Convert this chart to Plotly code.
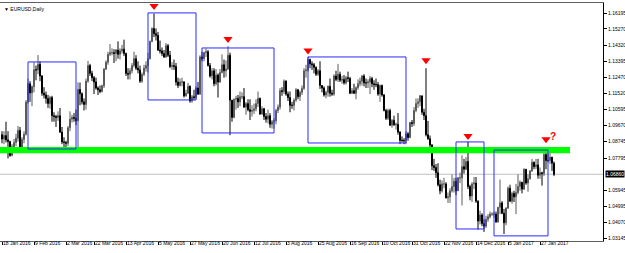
import pandas as pd
import plotly.graph_objects as go

# ---------------- data ----------------
DATES = pd.bdate_range("2016-01-18", "2017-02-07")
FIRST_OPEN = 1.0915

HIGH = [
    1.0935, 1.0935, 1.0990, 1.0935, 1.0880,
    1.0860, 1.0890, 1.0920, 1.0965, 1.0960,
    1.0900, 1.0935, 1.1115, 1.1240, 1.1225,
    1.1200, 1.1335, 1.1315, 1.1376, 1.1340,
    1.1260, 1.1190, 1.1165, 1.1145, 1.1140,
    1.1140, 1.1045, 1.1030, 1.1050, 1.1070,
    1.0960, 1.0900, 1.0880, 1.0965, 1.1050,
    1.1030, 1.1040, 1.1060, 1.1218, 1.1217,
    1.1160, 1.1125, 1.1240, 1.1342, 1.1325,
    1.1285, 1.1255, 1.1245, 1.1195, 1.1200,
    1.1205, 1.1300, 1.1345, 1.1395, 1.1440,
    1.1415, 1.1410, 1.1410, 1.1455, 1.1415,
    1.1435, 1.1465, 1.1390, 1.1300, 1.1300,
    1.1330, 1.1395, 1.1375, 1.1340, 1.1315,
    1.1275, 1.1320, 1.1340, 1.1390, 1.1460,
    1.1536, 1.1616, 1.1530, 1.1510, 1.1460,
    1.1420, 1.1405, 1.1445, 1.1440, 1.1400,
    1.1335, 1.1350, 1.1330, 1.1245, 1.1240,
    1.1245, 1.1225, 1.1175, 1.1215, 1.1200,
    1.1145, 1.1175, 1.1195, 1.1220, 1.1375,
    1.1395, 1.1395, 1.1415, 1.1405, 1.1330,
    1.1300, 1.1300, 1.1295, 1.1270, 1.1295,
    1.1380, 1.1350, 1.1345, 1.1428, 1.1390,
    1.1115, 1.1125, 1.1140, 1.1145, 1.1165,
    1.1160, 1.1185, 1.1105, 1.1120, 1.1120,
    1.1085, 1.1095, 1.1120, 1.1165, 1.1130,
    1.1080, 1.1070, 1.1040, 1.1060, 1.1040,
    1.1000, 1.1010, 1.1065, 1.1090, 1.1185,
    1.1190, 1.1235, 1.1230, 1.1165, 1.1165,
    1.1105, 1.1125, 1.1185, 1.1180, 1.1170,
    1.1200, 1.1300, 1.1320, 1.1366, 1.1355,
    1.1340, 1.1330, 1.1310, 1.1295, 1.1340,
    1.1200, 1.1195, 1.1170, 1.1200, 1.1240,
    1.1175, 1.1265, 1.1285, 1.1325, 1.1280,
    1.1255, 1.1260, 1.1255, 1.1280, 1.1250,
    1.1185, 1.1210, 1.1195, 1.1235, 1.1245,
    1.1260, 1.1265, 1.1240, 1.1235, 1.1255,
    1.1250, 1.1230, 1.1240, 1.1220, 1.1205,
    1.1205, 1.1150, 1.1065, 1.1065, 1.1065,
    1.1005, 1.1025, 1.0985, 1.1040, 1.0935,
    1.0905, 1.0895, 1.0935, 1.0930, 1.0990,
    1.1000, 1.1075, 1.1125, 1.1125, 1.1145,
    1.1140, 1.1065, 1.1300, 1.0995, 1.0910,
    1.0860, 1.0775, 1.0745, 1.0750, 1.0655,
    1.0650, 1.0665, 1.0640, 1.0580, 1.0605,
    1.0685, 1.0665, 1.0665, 1.0670, 1.0695,
    1.0796, 1.0775, 1.0785, 1.0874, 1.0625,
    1.0640, 1.0670, 1.0670, 1.0535, 1.0475,
    1.0460, 1.0425, 1.0445, 1.0455, 1.0470,
    1.0465, 1.0470, 1.0470, 1.0495, 1.0655,
    1.0530, 1.0485, 1.0495, 1.0615, 1.0625,
    1.0585, 1.0590, 1.0630, 1.0685, 1.0650,
    1.0640, 1.0720, 1.0715, 1.0685, 1.0710,
    1.0775, 1.0760, 1.0775, 1.0775, 1.0725,
    1.0700, 1.0810, 1.0810, 1.0830, 1.0830,
    1.0785, 1.0760,
]

LOW = [
    1.0865, 1.0860, 1.0870, 1.0778, 1.0787,
    1.0790, 1.0810, 1.0850, 1.0875, 1.0810,
    1.0810, 1.0865, 1.0910, 1.1095, 1.1105,
    1.1080, 1.1160, 1.1230, 1.1265, 1.1225,
    1.1140, 1.1125, 1.1095, 1.1070, 1.1065,
    1.0990, 1.0990, 1.0960, 1.0995, 1.0925,
    1.0860, 1.0840, 1.0830, 1.0850, 1.0935,
    1.0985, 1.0990, 1.0970, 1.0822, 1.1085,
    1.1090, 1.1055, 1.1060, 1.1215, 1.1255,
    1.1225, 1.1150, 1.1175, 1.1145, 1.1155,
    1.1160, 1.1185, 1.1290, 1.1320, 1.1370,
    1.1375, 1.1330, 1.1340, 1.1355, 1.1350,
    1.1385, 1.1370, 1.1255, 1.1235, 1.1235,
    1.1270, 1.1305, 1.1290, 1.1270, 1.1215,
    1.1215, 1.1255, 1.1280, 1.1275, 1.1350,
    1.1450, 1.1480, 1.1460, 1.1400, 1.1385,
    1.1370, 1.1360, 1.1360, 1.1365, 1.1300,
    1.1290, 1.1290, 1.1200, 1.1185, 1.1195,
    1.1195, 1.1130, 1.1135, 1.1150, 1.1100,
    1.1100, 1.1115, 1.1120, 1.1145, 1.1145,
    1.1340, 1.1340, 1.1365, 1.1310, 1.1245,
    1.1235, 1.1195, 1.1200, 1.1130, 1.1215,
    1.1270, 1.1245, 1.1250, 1.1290, 1.0912,
    1.0990, 1.1010, 1.1060, 1.1070, 1.1080,
    1.1120, 1.1070, 1.1030, 1.1050, 1.1000,
    1.1020, 1.1035, 1.1050, 1.1075, 1.1030,
    1.1030, 1.1000, 1.0985, 1.0980, 1.0955,
    1.0950, 1.0950, 1.0975, 1.1040, 1.1060,
    1.1140, 1.1150, 1.1140, 1.1110, 1.1045,
    1.1065, 1.1055, 1.1105, 1.1120, 1.1110,
    1.1145, 1.1175, 1.1245, 1.1280, 1.1300,
    1.1290, 1.1270, 1.1255, 1.1255, 1.1180,
    1.1160, 1.1135, 1.1125, 1.1135, 1.1135,
    1.1140, 1.1140, 1.1225, 1.1220, 1.1220,
    1.1210, 1.1205, 1.1205, 1.1220, 1.1150,
    1.1150, 1.1150, 1.1120, 1.1175, 1.1195,
    1.1200, 1.1195, 1.1185, 1.1185, 1.1150,
    1.1190, 1.1175, 1.1190, 1.1140, 1.1105,
    1.1135, 1.1050, 1.1000, 1.1000, 1.0965,
    1.0955, 1.0965, 1.0945, 1.0915, 1.0860,
    1.0870, 1.0860, 1.0860, 1.0880, 1.0895,
    1.0960, 1.0965, 1.1045, 1.1070, 1.1080,
    1.1030, 1.1000, 1.0905, 1.0885, 1.0830,
    1.0710, 1.0705, 1.0665, 1.0615, 1.0570,
    1.0580, 1.0605, 1.0545, 1.0520, 1.0520,
    1.0580, 1.0580, 1.0565, 1.0590, 1.0635,
    1.0505, 1.0690, 1.0710, 1.0600, 1.0535,
    1.0525, 1.0600, 1.0520, 1.0365, 1.0395,
    1.0385, 1.0352, 1.0375, 1.0410, 1.0430,
    1.0445, 1.0435, 1.0405, 1.0405, 1.0455,
    1.0455, 1.0340, 1.0390, 1.0485, 1.0525,
    1.0515, 1.0525, 1.0455, 1.0570, 1.0590,
    1.0575, 1.0595, 1.0625, 1.0585, 1.0655,
    1.0700, 1.0715, 1.0715, 1.0660, 1.0660,
    1.0620, 1.0675, 1.0715, 1.0755, 1.0745,
    1.0705, 1.0675,
]

CLOSE = [
    1.0890, 1.0910, 1.0885, 1.0875, 1.0795,
    1.0845, 1.0870, 1.0895, 1.0940, 1.0830,
    1.0887, 1.0918, 1.1104, 1.1210, 1.1157,
    1.1193, 1.1291, 1.1290, 1.1323, 1.1255,
    1.1155, 1.1145, 1.1125, 1.1095, 1.1130,
    1.1025, 1.1020, 1.1015, 1.1025, 1.0930,
    1.0873, 1.0870, 1.0865, 1.0955, 1.1005,
    1.1015, 1.1010, 1.0995, 1.1177, 1.1152,
    1.1105, 1.1090, 1.1225, 1.1315, 1.1270,
    1.1245, 1.1220, 1.1185, 1.1175, 1.1165,
    1.1198, 1.1295, 1.1335, 1.1380, 1.1390,
    1.1390, 1.1385, 1.1405, 1.1380, 1.1400,
    1.1410, 1.1385, 1.1270, 1.1265, 1.1285,
    1.1315, 1.1355, 1.1300, 1.1290, 1.1225,
    1.1263, 1.1300, 1.1315, 1.1355, 1.1455,
    1.1530, 1.1500, 1.1490, 1.1405, 1.1400,
    1.1385, 1.1365, 1.1430, 1.1375, 1.1310,
    1.1315, 1.1310, 1.1220, 1.1200, 1.1220,
    1.1220, 1.1140, 1.1155, 1.1195, 1.1110,
    1.1135, 1.1130, 1.1185, 1.1150, 1.1365,
    1.1355, 1.1390, 1.1395, 1.1315, 1.1255,
    1.1285, 1.1210, 1.1260, 1.1220, 1.1275,
    1.1320, 1.1285, 1.1295, 1.1375, 1.1115,
    1.1015, 1.1120, 1.1125, 1.1105, 1.1135,
    1.1135, 1.1075, 1.1095, 1.1060, 1.1050,
    1.1055, 1.1065, 1.1095, 1.1125, 1.1035,
    1.1065, 1.1020, 1.1005, 1.1025, 1.0975,
    1.0990, 1.0995, 1.1055, 1.1075, 1.1170,
    1.1165, 1.1225, 1.1150, 1.1130, 1.1085,
    1.1085, 1.1115, 1.1175, 1.1135, 1.1160,
    1.1183, 1.1285, 1.1290, 1.1350, 1.1325,
    1.1320, 1.1305, 1.1265, 1.1285, 1.1200,
    1.1185, 1.1145, 1.1160, 1.1195, 1.1155,
    1.1150, 1.1255, 1.1235, 1.1265, 1.1230,
    1.1235, 1.1215, 1.1245, 1.1240, 1.1155,
    1.1170, 1.1155, 1.1187, 1.1210, 1.1225,
    1.1255, 1.1215, 1.1215, 1.1220, 1.1240,
    1.1210, 1.1205, 1.1205, 1.1150, 1.1200,
    1.1145, 1.1055, 1.1010, 1.1055, 1.0970,
    1.0998, 1.0973, 1.0975, 1.0930, 1.0882,
    1.0882, 1.0880, 1.0920, 1.0898, 1.0985,
    1.0980, 1.1055, 1.1095, 1.1105, 1.1140,
    1.1045, 1.1025, 1.0915, 1.0892, 1.0855,
    1.0735, 1.0725, 1.0695, 1.0625, 1.0590,
    1.0630, 1.0630, 1.0550, 1.0555, 1.0590,
    1.0615, 1.0645, 1.0590, 1.0665, 1.0665,
    1.0730, 1.0715, 1.0760, 1.0615, 1.0560,
    1.0630, 1.0635, 1.0530, 1.0415, 1.0450,
    1.0400, 1.0385, 1.0425, 1.0440, 1.0455,
    1.0455, 1.0455, 1.0410, 1.0495, 1.0520,
    1.0460, 1.0405, 1.0490, 1.0605, 1.0530,
    1.0575, 1.0555, 1.0580, 1.0615, 1.0640,
    1.0600, 1.0715, 1.0635, 1.0660, 1.0705,
    1.0755, 1.0730, 1.0740, 1.0680, 1.0695,
    1.0690, 1.0800, 1.0765, 1.0765, 1.0785,
    1.0750, 1.0686,
]

# daily FX bar opens at the previous bar's close
OPEN = [FIRST_OPEN] + CLOSE[:-1]

DATE_LABELS = ["2016-01-18", "2016-02-09", "2016-03-02", "2016-03-22", "2016-04-13",
               "2016-05-05", "2016-05-27", "2016-06-20", "2016-07-12", "2016-08-03",
               "2016-08-25", "2016-09-16", "2016-10-10", "2016-10-31", "2016-11-22",
               "2016-12-14", "2017-01-05", "2017-01-27"]

PRICE_TICKS = [1.16195, 1.15270, 1.14320, 1.13395, 1.12470, 1.11520, 1.10595,
               1.09670, 1.08745, 1.07795, 1.05945, 1.04995, 1.04070, 1.03145]

CURRENT_PRICE = 1.0686
CURRENT_LABEL = "1.06860"

ZONE_LOW, ZONE_HIGH = 1.0808, 1.0843
ZONE_END_BAR = 284

BOX_START = ["2016-02-04", "2016-04-28", "2016-06-06", "2016-08-18", "2016-11-30", "2016-12-27"]
BOX_END = ["2016-03-09", "2016-06-01", "2016-07-26", "2016-10-26", "2016-12-20", "2017-02-02"]
BOX_TOP = [1.1336, 1.1620, 1.1417, 1.1365, 1.0873, 1.0826]
BOX_BOTTOM = [1.0832, 1.1116, 1.0925, 1.0867, 1.0369, 1.0329]

ARROW_DATES = ["2016-05-03", "2016-06-23", "2016-08-18", "2016-11-09", "2016-12-08", "2017-02-01"]
ARROW_PRICES = [1.1660, 1.1469, 1.1403, 1.1346, 1.0907, 1.0888]
QUESTION_BAR = 275.5
QUESTION_PRICE = 1.0903

# ---------------- figure ----------------
pos = {d.strftime("%Y-%m-%d"): i for i, d in enumerate(DATES)}
idx = list(range(len(DATES)))

FONT = "Liberation Sans"
FS = 5

fig = go.Figure()
fig.add_trace(go.Candlestick(
    x=idx, open=OPEN, high=HIGH, low=LOW, close=CLOSE,
    increasing=dict(line=dict(color="#5a5a5a", width=1), fillcolor="#8a8a8a"),
    decreasing=dict(line=dict(color="#000000", width=1), fillcolor="#000000"),
    whiskerwidth=0, showlegend=False, hoverinfo="skip",
))

fig.add_trace(go.Scatter(
    x=[pos[d] for d in ARROW_DATES], y=ARROW_PRICES, mode="markers",
    marker=dict(symbol="triangle-down", size=8, color="#ff0000", line=dict(width=0)),
    showlegend=False, hoverinfo="skip",
))

shapes = []
shapes.append(dict(type="line", xref="paper", x0=0, x1=1, yref="y",
                   y0=CURRENT_PRICE, y1=CURRENT_PRICE,
                   line=dict(color="#c0c0c0", width=1), layer="below"))
shapes.append(dict(type="rect", xref="x", x0=-1, x1=ZONE_END_BAR, yref="y",
                   y0=ZONE_LOW, y1=ZONE_HIGH, fillcolor="#00ff00",
                   line=dict(width=0), layer="above"))
for s, e, t, b in zip(BOX_START, BOX_END, BOX_TOP, BOX_BOTTOM):
    shapes.append(dict(type="rect", xref="x", x0=pos[s], x1=pos[e], yref="y",
                       y0=b, y1=t, fillcolor="rgba(0,0,0,0)",
                       line=dict(color="#2a2aff", width=1), layer="above"))

annotations = [
    dict(xref="paper", yref="paper", x=0.003, y=0.995, xanchor="left", yanchor="top",
         text="▼ EURUSD,Daily", showarrow=False,
         font=dict(family=FONT, size=FS, color="#000000")),
    dict(xref="x", yref="y", x=QUESTION_BAR, y=QUESTION_PRICE, text="<b>?</b>",
         showarrow=False, font=dict(family=FONT, size=10, color="#ff0000")),
    dict(xref="paper", yref="y", x=1, y=CURRENT_PRICE, xanchor="left", yanchor="middle",
         text=CURRENT_LABEL, showarrow=False, bgcolor="#000000", borderpad=0,
         xshift=2, font=dict(family=FONT, size=FS, color="#ffffff")),
]

fig.update_layout(
    width=625, height=253,
    margin=dict(l=0, r=22, t=3, b=12, autoexpand=False),
    paper_bgcolor="#ffffff", plot_bgcolor="#ffffff",
    shapes=shapes, annotations=annotations,
    showlegend=False,
    xaxis=dict(
        range=[-1, 300.5], rangeslider=dict(visible=False),
        tickmode="array", tickvals=[pos[d] for d in DATE_LABELS],
        ticktext=[pd.Timestamp(d).strftime("%-d %b %Y") for d in DATE_LABELS],
        ticks="outside", ticklen=3, tickcolor="#000000", tickangle=0,
        ticklabelposition="outside right", ticklabelstandoff=-3,
        tickfont=dict(family=FONT, size=FS, color="#000000"),
        showgrid=False, zeroline=False,
        showline=True, linecolor="#606060", linewidth=1, mirror=True,
        automargin=False, fixedrange=True,
    ),
    yaxis=dict(
        side="right", range=[1.02994, 1.16774],
        tickmode="array", tickvals=PRICE_TICKS,
        ticktext=[f"{v:.5f}" for v in PRICE_TICKS],
        ticks="outside", ticklen=3, tickcolor="#000000",
        tickfont=dict(family=FONT, size=FS, color="#000000"),
        showgrid=False, zeroline=False,
        showline=True, linecolor="#000000", linewidth=1, mirror=True,
        automargin=False, fixedrange=True,
    ),
)

fig.write_html("out.html")
